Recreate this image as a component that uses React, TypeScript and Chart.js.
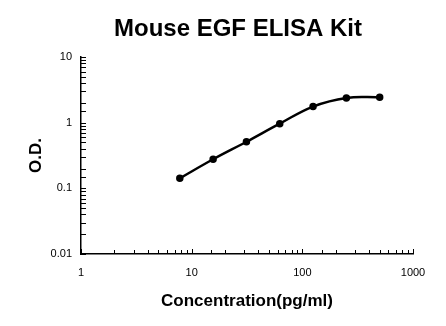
import React, { useEffect, useRef } from "react";
import { Chart, registerables } from "chart.js";

Chart.register(...registerables);

const TITLE = "Mouse EGF ELISA Kit";
const X_TITLE = "Concentration(pg/ml)";
const Y_TITLE = "O.D.";
const concentrations = [7.8125, 15.625, 31.25, 62.5, 125, 250, 500];
const odValues = [0.142, 0.277, 0.512, 0.966, 1.76, 2.38, 2.44];
const X_MIN = 1;
const X_MAX = 1000;
const Y_MIN = 0.01;
const Y_MAX = 10;

const FONT = "Arial, 'Liberation Sans', sans-serif";

const isPow10 = (v: number) => Math.abs(Math.log10(v) - Math.round(Math.log10(v))) < 1e-9;

const tickPlugin = {
  id: "inwardTicks",
  afterDraw(chart: any) {
    const { ctx, chartArea } = chart;
    const xs = chart.scales.x;
    const ys = chart.scales.y;
    ctx.save();
    ctx.strokeStyle = "#000";
    ctx.lineWidth = 1;
    for (const t of xs.ticks) {
      const px = Math.round(xs.getPixelForValue(t.value)) + 0.5;
      const len = isPow10(t.value) ? 5 : 4;
      ctx.beginPath();
      ctx.moveTo(px, chartArea.bottom);
      ctx.lineTo(px, chartArea.bottom - len);
      ctx.stroke();
    }
    for (const t of ys.ticks) {
      const py = Math.round(ys.getPixelForValue(t.value)) + 0.5;
      ctx.beginPath();
      ctx.moveTo(chartArea.left, py);
      ctx.lineTo(chartArea.left + 5, py);
      ctx.stroke();
    }
    ctx.restore();
  },
};

const titlePlugin = {
  id: "mainTitle",
  afterDraw(chart: any) {
    const { ctx } = chart;
    ctx.save();
    ctx.fillStyle = "#000";
    ctx.font = `bold 24px ${FONT}`;
    ctx.textAlign = "center";
    ctx.textBaseline = "alphabetic";
    ctx.fillText(TITLE, 238, 36);
    ctx.restore();
  },
};

export default function App() {
  const ref = useRef<HTMLCanvasElement | null>(null);
  useEffect(() => {
    if (!ref.current) return;
    Chart.defaults.font.family = FONT;
    Chart.defaults.color = "#000";
    const chart = new Chart(ref.current, {
      type: "scatter",
      data: {
        datasets: [
          {
            data: concentrations.map((c, i) => ({ x: c, y: odValues[i] })),
            showLine: true,
            borderColor: "#000",
            backgroundColor: "#000",
            borderWidth: 2.5,
            pointRadius: 2.5,
            pointBackgroundColor: "#000",
            pointBorderColor: "#000",
            tension: 0.4,
          },
        ],
      },
      options: {
        responsive: false,
        animation: false,
        layout: { padding: { top: 57, right: 33, left: 0, bottom: 0 } },
        plugins: { legend: { display: false }, tooltip: { enabled: false }, title: { display: false } },
        scales: {
          x: {
            type: "logarithmic",
            min: X_MIN,
            max: X_MAX,
            afterFit: (s: any) => {
              s.height = 72;
            },
            grid: { display: false, drawTicks: false },
            border: { display: true, color: "#000", width: 1.5 },
            ticks: {
              autoSkip: false,
              maxRotation: 0,
              minRotation: 0,
              padding: 12,
              font: { size: 11 },
              color: "#000",
              callback: (v: any) => (isPow10(Number(v)) ? String(Number(v)) : ""),
            },
            title: {
              display: true,
              text: X_TITLE,
              font: { size: 17, weight: "bold" },
              color: "#000",
              padding: { top: 0, bottom: 14 },
            },
          },
          y: {
            type: "logarithmic",
            min: Y_MIN,
            max: Y_MAX,
            afterFit: (s: any) => {
              s.width = 81;
            },
            grid: { display: false, drawTicks: false },
            border: { display: true, color: "#000", width: 1.5 },
            ticks: {
              autoSkip: false,
              padding: 9,
              font: { size: 11 },
              color: "#000",
              callback: (v: any) => (isPow10(Number(v)) ? String(Number(v)) : ""),
            },
            title: {
              display: true,
              text: Y_TITLE,
              font: { size: 17, weight: "bold" },
              color: "#000",
              padding: { top: 26, bottom: 0 },
            },
          },
        },
      },
      plugins: [tickPlugin, titlePlugin],
    } as any);
    return () => chart.destroy();
  }, []);
  return (
    <div style={{ position: "fixed", left: 0, top: 0, width: 446, height: 326, background: "#fff" }}>
      <canvas ref={ref} width={446} height={326} style={{ display: "block" }} />
    </div>
  );
}
